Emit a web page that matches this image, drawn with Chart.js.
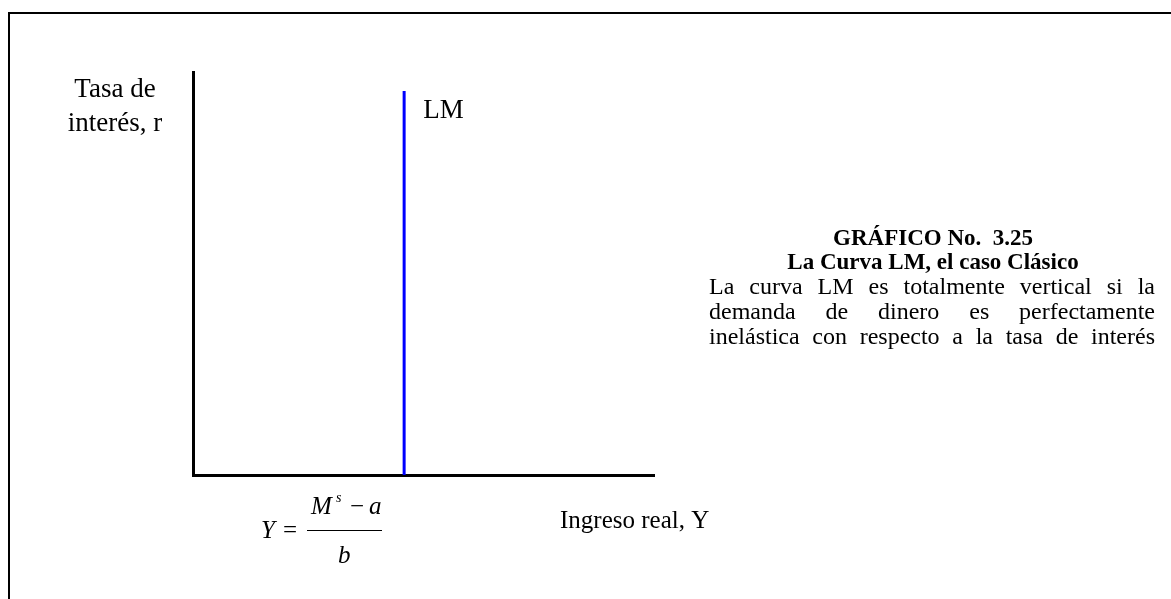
<!DOCTYPE html>
<html>
<head>
<meta charset="utf-8">
<script src="https://cdn.jsdelivr.net/npm/chart.js@4.4.1/dist/chart.umd.min.js"></script>
<style>
  html, body { margin: 0; padding: 0; background: #fff; }
  canvas { display: block; }
</style>
</head>
<body>
<canvas id="lm-chart" width="1171" height="599"></canvas>
<script>
// LM curve, classic case: vertical line at Y = (Ms - a) / b
const xRange = [0, 100];
const yRange = [0, 100];
const lmIncome = [45.8, 45.8];
const lmRate = [0, 95.3];

const yAxisLabel = ["Tasa de", "interés, r"];
const xAxisLabel = "Ingreso real, Y";
const curveLabel = "LM";
const titleLines = ["GRÁFICO No.  3.25", "La Curva LM, el caso Clásico"];
const noteLines = [
  "La curva LM es totalmente vertical si la",
  "demanda de dinero es perfectamente",
  "inelástica con respecto a la tasa de interés",
];

const SERIF = "'Liberation Serif', 'Times New Roman', serif";

function justifyLine(ctx, text, left, right, y) {
  const words = text.split(" ");
  let wordsWidth = 0;
  words.forEach((w) => (wordsWidth += ctx.measureText(w).width));
  const gap = (right - left - wordsWidth) / (words.length - 1);
  let x = left;
  ctx.textAlign = "left";
  words.forEach((w) => {
    ctx.fillText(w, x, y);
    x += ctx.measureText(w).width + gap;
  });
}

const whiteBackground = {
  id: "whiteBackground",
  beforeDraw(chart) {
    const { ctx, width, height } = chart;
    ctx.save();
    ctx.fillStyle = "#fff";
    ctx.fillRect(0, 0, width, height);
    ctx.restore();
  },
};

const textLabels = {
  id: "textLabels",
  afterDraw(chart) {
    const { ctx, width, height, scales } = chart;
    ctx.save();

    // frame
    ctx.strokeStyle = "#000";
    ctx.lineWidth = 2;
    ctx.beginPath();
    ctx.moveTo(9, height);
    ctx.lineTo(9, 13);
    ctx.lineTo(width, 13);
    ctx.stroke();

    ctx.fillStyle = "#000";
    ctx.textBaseline = "middle";

    // y axis label
    ctx.font = "27px " + SERIF;
    ctx.textAlign = "center";
    ctx.fillText(yAxisLabel[0], 115, 90);
    ctx.fillText(yAxisLabel[1], 115, 124);

    // LM label next to the curve
    const lx = scales.x.getPixelForValue(lmIncome[1]);
    const ly = scales.y.getPixelForValue(lmRate[1]);
    ctx.textAlign = "left";
    ctx.fillText(curveLabel, lx + 19, ly + 20);

    // x axis label
    ctx.font = "25px " + SERIF;
    ctx.fillText(xAxisLabel, 560, 521);

    // title
    ctx.font = "bold 23px " + SERIF;
    ctx.textAlign = "center";
    ctx.fillText(titleLines[0], 933, 239);
    ctx.fillText(titleLines[1], 933, 263);

    // note, justified
    ctx.font = "24px " + SERIF;
    noteLines.forEach((line, i) => {
      justifyLine(ctx, line, 709, 1155, 288 + i * 25);
    });

    // formula Y = (M^s - a) / b
    ctx.textAlign = "left";
    ctx.font = "italic 25px " + SERIF;
    ctx.fillText("Y", 261, 531);
    ctx.font = "25px " + SERIF;
    ctx.fillText("=", 283, 531);
    ctx.font = "italic 25px " + SERIF;
    ctx.fillText("M", 311, 507);
    ctx.font = "italic 14px " + SERIF;
    ctx.fillText("s", 336, 498);
    ctx.font = "25px " + SERIF;
    ctx.fillText("\u2212", 350, 507);
    ctx.font = "italic 25px " + SERIF;
    ctx.fillText("a", 369, 507);
    ctx.fillText("b", 338, 556);
    ctx.lineWidth = 1;
    ctx.beginPath();
    ctx.moveTo(307, 530.5);
    ctx.lineTo(382, 530.5);
    ctx.stroke();

    ctx.restore();
  },
};

new Chart(document.getElementById("lm-chart"), {
  type: "line",
  data: {
    datasets: [
      {
        label: curveLabel,
        data: lmIncome.map((x, i) => ({ x: x, y: lmRate[i] })),
        borderColor: "#0000ff",
        borderWidth: 3,
        pointRadius: 0,
        fill: false,
      },
    ],
  },
  options: {
    responsive: false,
    devicePixelRatio: 1,
    animation: false,
    layout: {
      padding: { left: 193, top: 72, right: 517, bottom: 124 },
    },
    plugins: {
      legend: { display: false },
      tooltip: { enabled: false },
    },
    scales: {
      x: {
        type: "linear",
        min: xRange[0],
        max: xRange[1],
        z: 1,
        grid: { display: false, drawTicks: false },
        ticks: { display: false },
        border: { display: true, color: "#000", width: 3 },
      },
      y: {
        type: "linear",
        min: yRange[0],
        max: yRange[1],
        z: 1,
        grid: { display: false, drawTicks: false },
        ticks: { display: false },
        border: { display: true, color: "#000", width: 3 },
      },
    },
  },
  plugins: [whiteBackground, textLabels],
});
</script>
</body>
</html>
